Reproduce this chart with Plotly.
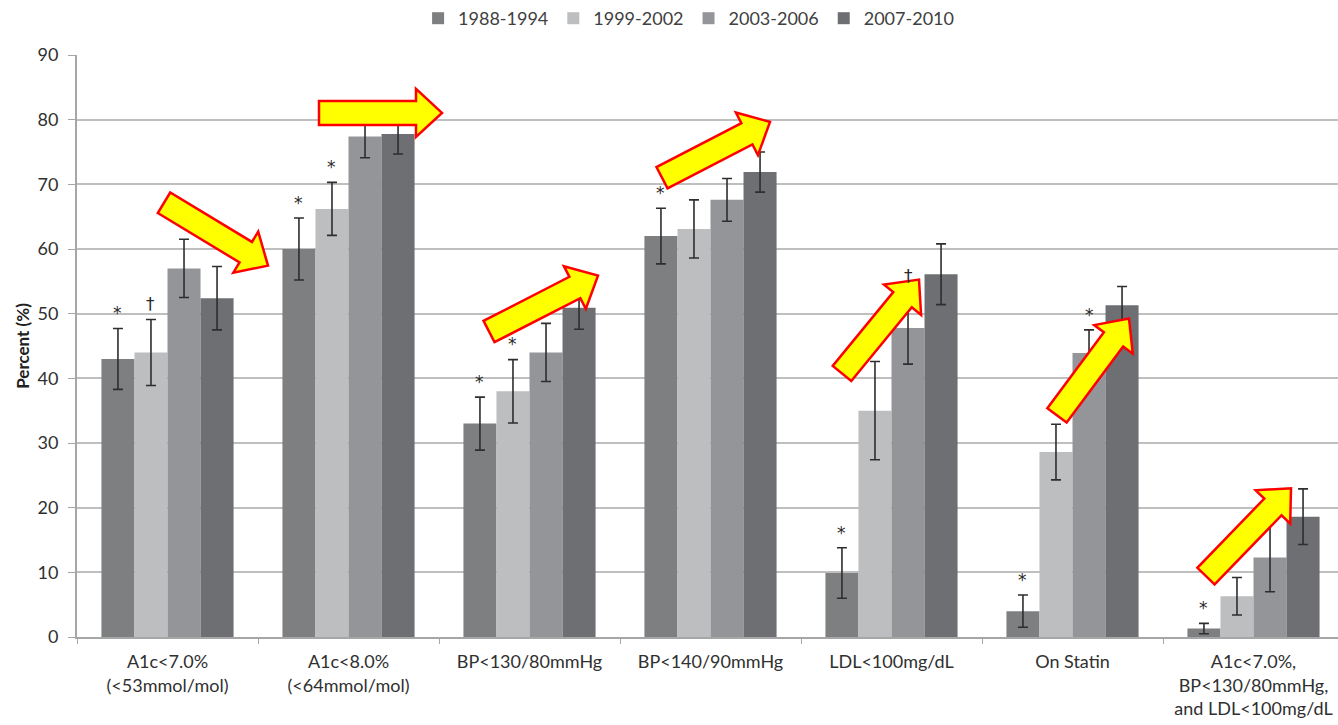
import math
import plotly.graph_objects as go

# Categories (x axis) and survey periods (series)
categories = [
    "A1c<7.0%<br>(<53mmol/mol)",
    "A1c<8.0%<br>(<64mmol/mol)",
    "BP<130/80mmHg",
    "BP<140/90mmHg",
    "LDL<100mg/dL",
    "On Statin",
    "A1c<7.0%,<br>BP<130/80mmHg,<br>and LDL<100mg/dL",
]
periods = ["1988-1994", "1999-2002", "2003-2006", "2007-2010"]

# Percent achieving each target, by period
pct_1988_1994 = [43.0, 60.0, 33.0, 62.0, 9.9, 4.0, 1.3]
pct_1999_2002 = [44.0, 66.2, 38.0, 63.1, 35.0, 28.6, 6.3]
pct_2003_2006 = [57.0, 77.4, 44.0, 67.6, 47.8, 43.9, 12.3]
pct_2007_2010 = [52.4, 77.8, 50.9, 71.9, 56.1, 51.3, 18.6]

# Half-width of the 95% confidence intervals
ci_1988_1994 = [4.7, 4.8, 4.1, 4.3, 3.9, 2.5, 0.8]
ci_1999_2002 = [5.1, 4.1, 4.9, 4.5, 7.6, 4.3, 2.9]
ci_2003_2006 = [4.5, 3.3, 4.5, 3.3, 5.6, 3.6, 5.3]
ci_2007_2010 = [4.9, 3.1, 3.3, 3.1, 4.7, 2.9, 4.3]

# Significance markers: (category index, period index, symbol)
markers = [
    (0, 0, "*"), (0, 1, "\u2020"),
    (1, 0, "*"), (1, 1, "*"),
    (2, 0, "*"), (2, 1, "*"),
    (3, 0, "*"),
    (4, 0, "*"), (4, 2, "\u2020"),
    (5, 0, "*"), (5, 2, "*"),
    (6, 0, "*"),
]

y_ticks = [0, 10, 20, 30, 40, 50, 60, 70, 80, 90]

values = [pct_1988_1994, pct_1999_2002, pct_2003_2006, pct_2007_2010]
cis = [ci_1988_1994, ci_1999_2002, ci_2003_2006, ci_2007_2010]
colors = ["#7e7f81", "#bdbec0", "#949598", "#6e6f72"]

FONT = "Lato, 'Open Sans', sans-serif"
MARK_FONT = "'DejaVu Sans', sans-serif"
BARGAP = 0.27
bar_w = (1 - BARGAP) / 4

fig = go.Figure()
xs = list(range(len(categories)))
for i, name in enumerate(periods):
    fig.add_trace(go.Bar(
        x=xs, y=values[i], name=name,
        marker=dict(color=colors[i], line=dict(width=0)),
        error_y=dict(type="data", array=cis[i], visible=True,
                     color="#2e2e2e", thickness=1.6, width=5),
    ))

for g, s, sym in markers:
    top = values[s][g] + cis[s][g]
    fig.add_annotation(
        x=g + (s - 1.5) * bar_w, y=top + 0.5, text=sym,
        showarrow=False, yanchor="bottom",
        font=dict(family=MARK_FONT, size=17, color="#2a2a2a"),
    )

# Layout geometry (pixels)
W, H = 1338, 725
L, R, T, B = 77, 1338, 54, 637


def to_paper(px, py):
    return (px - L) / (R - L), (B - py) / (B - T)


def block_arrow(tail, tip, shaft=24, head=48, head_len=26):
    dx, dy = tip[0] - tail[0], tip[1] - tail[1]
    n = math.hypot(dx, dy)
    ux, uy = dx / n, dy / n
    nx, ny = -uy, ux
    bx, by = tip[0] - ux * head_len, tip[1] - uy * head_len
    pts = [
        (tail[0] + nx * shaft / 2, tail[1] + ny * shaft / 2),
        (bx + nx * shaft / 2, by + ny * shaft / 2),
        (bx + nx * head / 2, by + ny * head / 2),
        tip,
        (bx - nx * head / 2, by - ny * head / 2),
        (bx - nx * shaft / 2, by - ny * shaft / 2),
        (tail[0] - nx * shaft / 2, tail[1] - ny * shaft / 2),
    ]
    pp = [to_paper(*p) for p in pts]
    return "M " + " L ".join(f"{x:.5f},{y:.5f}" for x, y in pp) + " Z"


# Trend arrows drawn over the chart
arrows = [
    ((164, 202), (268, 265)),
    ((319, 112), (442, 112)),
    ((489, 331), (598, 275)),
    ((662, 177), (770, 121)),
    ((842, 373), (919, 279)),
    ((1057, 415), (1129, 318)),
    ((1206, 576), (1291, 488)),
]
for tail, tip in arrows:
    fig.add_shape(
        type="path", path=block_arrow(tail, tip),
        xref="paper", yref="paper", layer="above",
        fillcolor="#ffff00", line=dict(color="#ff0000", width=2.5),
    )

fig.update_layout(
    width=W, height=H,
    margin=dict(l=L, r=W - R, t=T, b=H - B),
    paper_bgcolor="white", plot_bgcolor="white",
    barmode="group", bargap=BARGAP, bargroupgap=0,
    font=dict(family=FONT, size=18, color="#404040"),
    legend=dict(
        orientation="h", x=0.485, xanchor="center", y=1.063, yanchor="middle",
        font=dict(family=FONT, size=18, color="#404040"),
        itemwidth=30, traceorder="normal",
    ),
    showlegend=True,
)

fig.update_xaxes(
    range=[-0.5, -0.5 + (R - L) / 181.0],
    tickmode="array", tickvals=xs, ticktext=categories,
    ticks="", showgrid=False,
    showline=True, linecolor="#a6a6a6", linewidth=1.5,
    tickfont=dict(family=FONT, size=18, color="#303030"),
    ticklabelstandoff=8,
    minor=dict(ticks="outside", tick0=-0.5, dtick=1, ticklen=5,
               tickcolor="#a6a6a6", showgrid=False),
    zeroline=False,
)
fig.update_yaxes(
    range=[0, 90], tickmode="array", tickvals=y_ticks,
    showgrid=True, gridcolor="#bfbfbf", gridwidth=1.5,
    showline=True, linecolor="#a6a6a6", linewidth=2,
    ticks="outside", ticklen=7, tickcolor="#a6a6a6",
    tickfont=dict(family=FONT, size=18, color="#303030"),
    ticklabelstandoff=6,
    zeroline=False,
    title=dict(text="<b>Percent (%)</b>", standoff=4,
               font=dict(family=FONT, size=17, color="#202020")),
)

fig.write_html("out.html")
